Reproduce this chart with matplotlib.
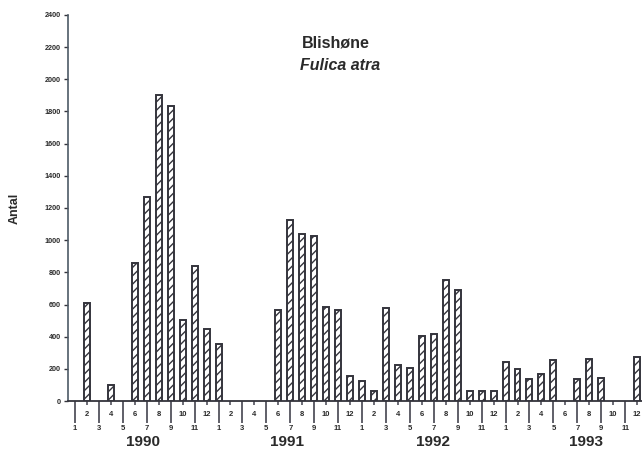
import numpy as np
import matplotlib
matplotlib.use("Agg")
import matplotlib.pyplot as plt
from matplotlib.transforms import blended_transform_factory

# Monthly counts of coot (Fulica atra), Jan 1990 - Dec 1993; 0 = no count
years = [1990, 1991, 1992, 1993]
months = list(range(1, 13))
counts_1990 = [0, 610, 0, 100, 0, 858, 1269, 1900, 1834, 505, 837, 450]
counts_1991 = [355, 0, 0, 0, 0, 567, 1123, 1038, 1028, 584, 567, 156]
counts_1992 = [127, 64, 581, 224, 208, 407, 415, 750, 692, 65, 65, 65]
counts_1993 = [241, 197, 135, 168, 255, 0, 135, 260, 141, 0, 0, 276]
y_ticks = list(range(0, 2401, 200))

title_main = "Blishøne"
title_species = "Fulica atra"
y_label = "Antal"

counts = np.array(counts_1990 + counts_1991 + counts_1992 + counts_1993, dtype=float)
idx = np.arange(len(counts))

plt.rcParams["font.family"] = ["Liberation Sans", "DejaVu Sans"]
plt.rcParams["hatch.linewidth"] = 1.0
plt.rcParams["hatch.color"] = "#34343c"

fig = plt.figure(figsize=(6.42, 4.54), dpi=100)
ax = fig.add_axes([68 / 642, 53 / 454, 574 / 642, 386 / 454])

ink = "#34343c"
mask = counts > 0
ax.bar(idx[mask], counts[mask], width=0.5, facecolor="white",
       edgecolor=ink, linewidth=1.4, hatch="////", zorder=3)

ax.set_ylim(0, 2400)
ax.set_xlim(-0.585, 47.41)

for side in ("top", "right"):
    ax.spines[side].set_visible(False)
ax.spines["left"].set_color("#4d5a66")
ax.spines["left"].set_linewidth(1.2)
ax.spines["bottom"].set_color(ink)
ax.spines["bottom"].set_linewidth(1.3)

ax.set_yticks(y_ticks)
ax.set_yticklabels([str(v) for v in y_ticks])
ax.tick_params(axis="y", length=3, width=1, color=ink, pad=2,
               labelsize=5.2, labelcolor="#2a2a2a")
for lab in ax.get_yticklabels():
    lab.set_fontweight("bold")

# odd months: long ticks with labels low; even months: short ticks, labels high
month_nums = np.array(months * len(years))
odd = idx[month_nums % 2 == 1]
even = idx[month_nums % 2 == 0]
ax.set_xticks(odd)
ax.set_xticklabels([str(m) for m in month_nums[month_nums % 2 == 1]])
ax.set_xticks(even, minor=True)
ax.set_xticklabels([str(m) for m in month_nums[month_nums % 2 == 0]], minor=True)
ax.tick_params(axis="x", which="major", length=16, width=1.2, color="#44444f",
               pad=1, labelsize=5.5, labelcolor="#2a2a2a")
ax.tick_params(axis="x", which="minor", length=3, width=1.1, color="#44444f",
               pad=4.5, labelsize=5.5, labelcolor="#2a2a2a")
for lab in ax.get_xticklabels(which="both"):
    lab.set_fontweight("bold")

trans = blended_transform_factory(ax.transData, ax.transAxes)
year_pos = [5.7, 17.7, 29.9, 42.7]
for yr, xp in zip(years, year_pos):
    ax.text(xp, -0.106, str(yr), transform=trans, ha="center", va="center",
            fontsize=11, fontweight="bold", color="#2a2a2a")

ax.text(0.467, 0.927, title_main, transform=ax.transAxes, ha="center",
        va="center", fontsize=11.5, fontweight="bold", color="#2a2a2a")
ax.text(0.474, 0.870, title_species, transform=ax.transAxes, ha="center",
        va="center", fontsize=11.5, fontweight="bold", style="italic",
        color="#2a2a2a")

fig.text(15 / 642, 1 - 208 / 454, y_label, rotation=90, ha="center",
         va="center", fontsize=9, fontweight="bold", color="#2a2a2a")

fig.savefig("out.png", dpi=100, facecolor="white")
